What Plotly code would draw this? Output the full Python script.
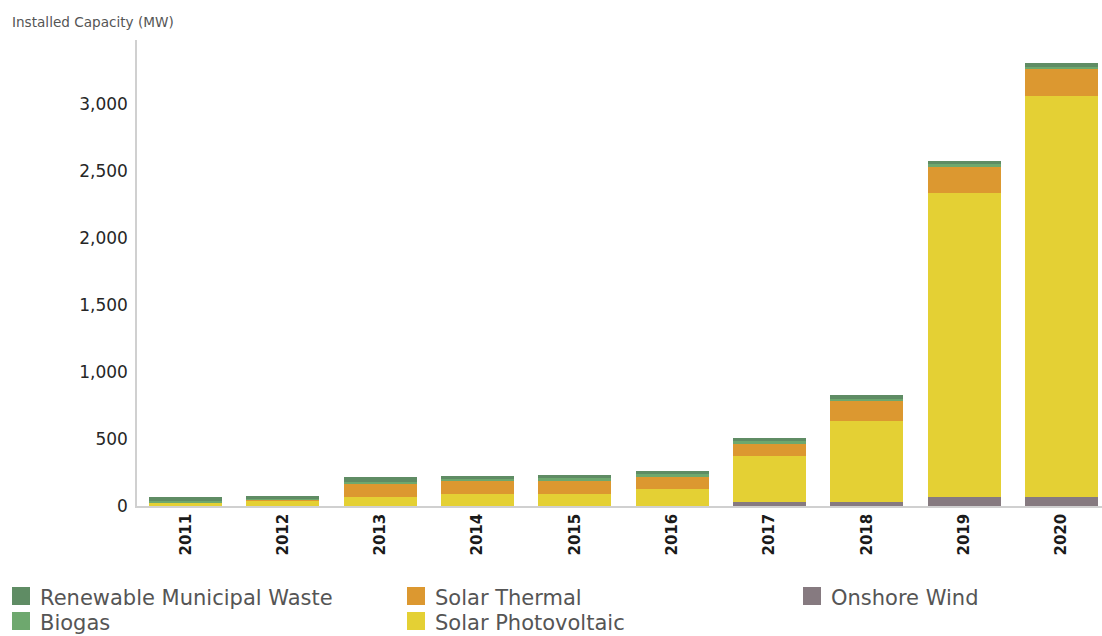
import plotly.graph_objects as go

# Installed renewable capacity by technology (MW), stacked bottom to top
years = ["2011", "2012", "2013", "2014", "2015", "2016", "2017", "2018", "2019", "2020"]
onshore_wind = [0, 0, 0, 0, 0, 0, 32, 31, 65, 65]
solar_pv = [25, 44, 66, 86, 86, 128, 338, 601, 2272, 2998]
solar_thermal = [0, 2, 102, 104, 107, 94, 100, 149, 196, 199]
biogas = [12, 10, 14, 13, 14, 14, 14, 16, 16, 15]
municipal_waste = [29, 20, 31, 22, 26, 26, 23, 29, 29, 27]

y_ticks = [0, 500, 1000, 1500, 2000, 2500, 3000]

series = [
    ("Onshore Wind", onshore_wind, "#867a80"),
    ("Solar Photovoltaic", solar_pv, "#e4d034"),
    ("Solar Thermal", solar_thermal, "#dc9830"),
    ("Biogas", biogas, "#6ea86e"),
    ("Renewable Municipal Waste", municipal_waste, "#5f8c64"),
]

W, H = 1102, 636
L, R, T, B = 137, 0, 40, 130

fig = go.Figure()
for name, vals, color in series:
    fig.add_trace(go.Bar(
        x=list(range(len(years))), y=vals, name=name,
        marker=dict(color=color, line=dict(width=0)),
        showlegend=False,
    ))

cat_px = 97.3
plot_w = W - L - R
fig.update_layout(
    width=W, height=H,
    margin=dict(l=L, r=R, t=T, b=B, pad=0),
    barmode="stack", bargap=0.25,
    plot_bgcolor="white", paper_bgcolor="white",
    xaxis=dict(
        range=[-0.5, -0.5 + plot_w / cat_px],
        tickmode="array", tickvals=list(range(len(years))), ticktext=years,
        tickangle=-90, showgrid=False, zeroline=False,
        showline=True, linecolor="#d0d0d0", linewidth=1.5,
        ticks="", ticklen=0,
        tickfont=dict(family="DejaVu Sans", size=15, color="#1a1a1a", weight="bold"),
    ),
    yaxis=dict(
        range=[0, 466 / 0.134],
        tickmode="array", tickvals=y_ticks,
        ticktext=[f"{v:,}" for v in y_ticks],
        showgrid=False, zeroline=False,
        showline=True, linecolor="#d0d0d0", linewidth=1.5,
        ticks="outside", ticklen=4, tickcolor="rgba(0,0,0,0)",
        tickfont=dict(family="DejaVu Sans", size=17, color="#262626"),
    ),
)

def px_x(x):
    return (x - L) / plot_w

def px_y(y):
    return (H - B - y) / (H - T - B)

fig.add_annotation(
    text="Installed Capacity (MW)", xref="paper", yref="paper",
    x=px_x(10), y=px_y(22), xanchor="left", yanchor="middle",
    showarrow=False, font=dict(family="DejaVu Sans", size=13.6, color="#555555"),
)

# Legend laid out in three columns, two rows
legend_items = [
    ("Renewable Municipal Waste", "#5f8c64", 12, 587),
    ("Biogas", "#6ea86e", 12, 612),
    ("Solar Thermal", "#dc9830", 407, 587),
    ("Solar Photovoltaic", "#e4d034", 407, 612),
    ("Onshore Wind", "#867a80", 803, 587),
]
for label, color, x0, y0 in legend_items:
    fig.add_shape(
        type="rect", xref="paper", yref="paper",
        x0=px_x(x0), x1=px_x(x0 + 18), y0=px_y(y0 + 18), y1=px_y(y0),
        fillcolor=color, line=dict(width=0),
    )
    fig.add_annotation(
        text=label, xref="paper", yref="paper",
        x=px_x(x0 + 26), y=px_y(y0 + 11), xanchor="left", yanchor="middle",
        showarrow=False, font=dict(family="DejaVu Sans", size=21, color="#555555"),
    )

fig.write_html("out.html")
